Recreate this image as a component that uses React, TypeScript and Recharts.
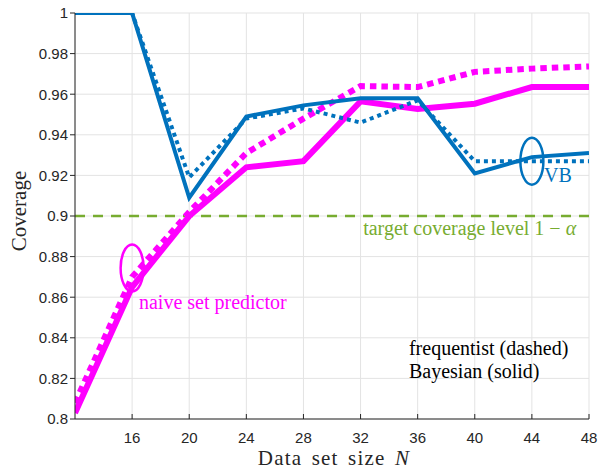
import React from 'react';
import {
  LineChart,
  Line,
  XAxis,
  YAxis,
  CartesianGrid,
  ReferenceLine,
  ReferenceDot,
  Label,
} from 'recharts';

// data set sizes N (x axis)
const sizes = [12, 16, 20, 24, 28, 32, 36, 40, 44, 48];
// VB set predictor
const vbBayesian = [1, 1, 0.909, 0.949, 0.9545, 0.958, 0.958, 0.921, 0.929, 0.931];
const vbFrequentist = [1, 1, 0.919, 0.948, 0.953, 0.946, 0.957, 0.927, 0.927, 0.927];
// naive set predictor
const naiveBayesian = [0.803, 0.865, 0.9, 0.924, 0.927, 0.9565, 0.9527, 0.9553, 0.9635, 0.9635];
const naiveFrequentist = [0.808, 0.87, 0.902, 0.931, 0.948, 0.964, 0.9635, 0.971, 0.9726, 0.9737];

const xTicks = [16, 20, 24, 28, 32, 36, 40, 44, 48];
const yTicks = [0.8, 0.82, 0.84, 0.86, 0.88, 0.9, 0.92, 0.94, 0.96, 0.98, 1];
const targetLevel = 0.9;

const BLUE = '#0072BD';
const MAGENTA = '#FF00FF';
const GREEN = '#77AC30';
const AXIS = '#262626';
const GRID = '#e3e3e3';
const SERIF = '"Liberation Serif", "Times New Roman", serif';
const SANS = '"Liberation Sans", Arial, sans-serif';

const data = sizes.map((n, i) => ({
  n,
  vbBayesian: vbBayesian[i],
  vbFrequentist: vbFrequentist[i],
  naiveBayesian: naiveBayesian[i],
  naiveFrequentist: naiveFrequentist[i],
}));

// text placed at a data point (baseline at the point)
const textAt = (content: React.ReactNode, color: string, anchor: 'start' | 'end' = 'start') =>
  (p: any) => (
    <text x={p.cx} y={p.cy} fill={color} fontFamily={SERIF} fontSize={20} textAnchor={anchor}>
      {content}
    </text>
  );

const ellipseAt = (color: string) => (p: any) => (
  <ellipse cx={p.cx} cy={p.cy} rx={11.5} ry={23.5} fill="none" stroke={color} strokeWidth={2.5} />
);

const XTitle = (props: any) => {
  const { x, y, width } = props.viewBox;
  return (
    <text
      x={x + width / 2 + 2}
      y={y + 46}
      textAnchor="middle"
      fill={AXIS}
      fontFamily={SERIF}
      fontSize={21}
      letterSpacing={1.2}
      wordSpacing={3}
    >
      Data set size <tspan fontStyle="italic">N</tspan>
    </text>
  );
};

const YTitle = (props: any) => {
  const { x, y, height } = props.viewBox;
  const cx = x + 26;
  const cy = y + height / 2 - 5;
  return (
    <text
      x={cx}
      y={cy}
      transform={`rotate(-90 ${cx} ${cy})`}
      textAnchor="middle"
      fill={AXIS}
      fontFamily={SERIF}
      fontSize={21}
    >
      Coverage
    </text>
  );
};

const fmt = (v: number) => String(Number(v.toFixed(2)));

export default function App() {
  return (
    <div style={{ position: 'absolute', left: 0, top: 0, width: 600, height: 469, background: '#fff' }}>
      <LineChart width={600} height={469} data={data} margin={{ top: 13, right: 11, bottom: 0, left: 0 }}>
        <CartesianGrid stroke={GRID} />
        <XAxis
          dataKey="n"
          type="number"
          domain={[12, 48]}
          ticks={xTicks}
          interval={0}
          height={50}
          tickSize={-5}
          tickMargin={18}
          axisLine={{ stroke: AXIS }}
          tickLine={{ stroke: AXIS }}
          tick={{ fill: AXIS, fontSize: 15, fontFamily: SANS }}
          allowDataOverflow
        >
          <Label content={XTitle} />
        </XAxis>
        <XAxis
          xAxisId="top"
          orientation="top"
          dataKey="n"
          type="number"
          domain={[12, 48]}
          ticks={xTicks}
          interval={0}
          height={0}
          tickSize={-5}
          axisLine={{ stroke: AXIS }}
          tickLine={{ stroke: AXIS }}
          tick={false}
          allowDataOverflow
        />
        <YAxis
          type="number"
          domain={[0.8, 1]}
          ticks={yTicks}
          interval={0}
          width={75}
          tickSize={5}
          tickMargin={2}
          tickFormatter={fmt}
          axisLine={{ stroke: AXIS }}
          tickLine={{ stroke: AXIS }}
          tick={{ fill: AXIS, fontSize: 15, fontFamily: SANS }}
          allowDataOverflow
        >
          <Label content={YTitle} />
        </YAxis>
        <YAxis
          yAxisId="right"
          orientation="right"
          type="number"
          domain={[0.8, 1]}
          ticks={yTicks}
          interval={0}
          width={0}
          tickSize={-5}
          axisLine={{ stroke: AXIS }}
          tickLine={{ stroke: AXIS }}
          tick={false}
          allowDataOverflow
        />

        <ReferenceLine y={targetLevel} stroke={GREEN} strokeWidth={2.5} strokeDasharray="10 8" />

        <Line type="linear" dataKey="naiveFrequentist" stroke={MAGENTA} strokeWidth={6} strokeDasharray="6.5 5" dot={false} isAnimationActive={false} />
        <Line type="linear" dataKey="naiveBayesian" stroke={MAGENTA} strokeWidth={6} dot={false} isAnimationActive={false} />
        <Line type="linear" dataKey="vbFrequentist" stroke={BLUE} strokeWidth={4} strokeDasharray="4 4" dot={false} isAnimationActive={false} />
        <Line type="linear" dataKey="vbBayesian" stroke={BLUE} strokeWidth={4} dot={false} isAnimationActive={false} />

        <ReferenceDot x={44} y={0.927} shape={ellipseAt(BLUE)} />
        <ReferenceDot x={16} y={0.8744} shape={ellipseAt(MAGENTA)} />
        <ReferenceDot x={44.85} y={0.9167} shape={textAt('VB', BLUE)} />
        <ReferenceDot x={16.48} y={0.854} shape={textAt('naive set predictor', MAGENTA)} />
        <ReferenceDot
          x={47.1}
          y={0.8906}
          shape={textAt(
            <>
              target coverage level 1 − <tspan fontStyle="italic">α</tspan>
            </>,
            GREEN,
            'end'
          )}
        />
        <ReferenceDot x={35.39} y={0.8315} shape={textAt('frequentist (dashed)', '#000')} />
        <ReferenceDot x={35.39} y={0.8202} shape={textAt('Bayesian (solid)', '#000')} />
      </LineChart>
    </div>
  );
}
